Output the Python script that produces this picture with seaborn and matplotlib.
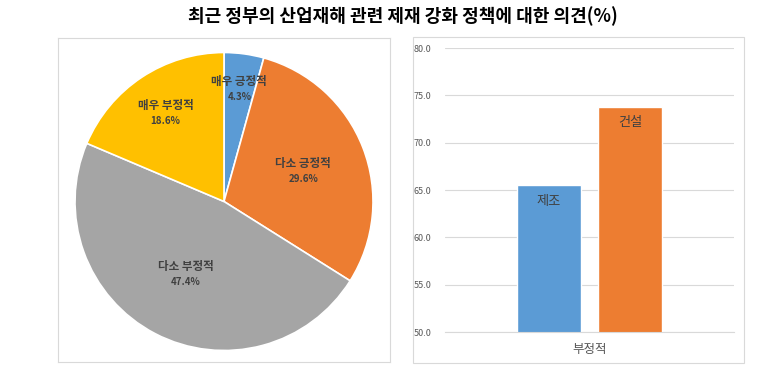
import numpy as np
import pandas as pd
import seaborn as sns
import matplotlib.pyplot as plt
from matplotlib.patches import Rectangle

sns.set_style('white')
plt.rcParams['font.family'] = ['Noto Sans CJK KR', 'DejaVu Sans']

title = '최근 정부의 산업재해 관련 제재 강화 정책에 대한 의견(%)'

# pie data
pie_labels = ['매우 긍정적', '다소 긍정적', '다소 부정적', '매우 부정적']
pie_values = [4.3, 29.6, 47.4, 18.6]
pie_colors = ['#5B9BD5', '#ED7D31', '#A5A5A5', '#FFC000']

# bar data
bar_category = ['부정적', '부정적']
bar_groups = ['제조', '건설']
bar_values = [65.5, 73.8]
bar_colors = ['#5B9BD5', '#ED7D31']
y_ticks = [50, 55, 60, 65, 70, 75, 80]

W, H = 776, 384
fig = plt.figure(figsize=(W / 100, H / 100), dpi=100)
fig.patch.set_facecolor('white')


def box(x0, y0, x1, y1):
    return [x0 / W, 1 - y1 / H, (x1 - x0) / W, (y1 - y0) / H]


fig.text(403 / W, 1 - 16 / H, title, ha='center', va='center',
         fontsize=13, fontweight='bold', color='black')

# pie panel
ax1 = fig.add_axes(box(58, 38, 390, 362))
r_px = 149
ax1.set_xlim(-166 / r_px, 166 / r_px)
ax1.set_ylim(-(362 - 201.5) / r_px, (201.5 - 38) / r_px)
wedges, _ = ax1.pie(pie_values, colors=pie_colors, startangle=90, counterclock=False,
                    radius=1, center=(0, 0), frame=True,
                    wedgeprops=dict(edgecolor='white', linewidth=1.2))
ax1.set_aspect('auto')
ax1.set_xticks([])
ax1.set_yticks([])
for s in ax1.spines.values():
    s.set_color('#D9D9D9')
    s.set_linewidth(0.8)

label_r = [0.76, 0.57, 0.55, 0.71]
for w, lab, v, r in zip(wedges, pie_labels, pie_values, label_r):
    ang = np.deg2rad((w.theta1 + w.theta2) / 2)
    x, y = r * np.cos(ang), r * np.sin(ang)
    ax1.text(x, y + 0.05, lab, ha='center', va='center', fontsize=8.3,
             fontweight='bold', color='#404040')
    ax1.text(x, y - 0.055, f'{v:.1f}%', ha='center', va='center', fontsize=7,
             fontweight='bold', color='#404040')

# bar panel
fig.add_artist(Rectangle((413 / W, 1 - 363 / H), (744 - 413) / W, (363 - 37) / H,
                         transform=fig.transFigure, facecolor='none',
                         edgecolor='#D9D9D9', linewidth=0.8))
ax2 = fig.add_axes(box(445, 48, 734, 332))
df = pd.DataFrame({'cat': bar_category, 'group': bar_groups, 'value': bar_values})
sns.barplot(data=df, x='cat', y='value', hue='group', palette=bar_colors,
            saturation=1, width=0.56, gap=0.21, ax=ax2, legend=False)
ax2.set_ylim(50, 80)
ax2.set_yticks(y_ticks)
ax2.set_yticklabels([f'{t:.1f}' for t in y_ticks], fontsize=6.5, color='#595959')
ax2.tick_params(axis='y', length=0, pad=10)
ax2.tick_params(axis='x', length=0, pad=8, labelsize=9, labelcolor='#595959')
ax2.set_xlabel('')
ax2.set_ylabel('')
ax2.grid(axis='y', color='#D9D9D9', linewidth=0.8)
ax2.set_axisbelow(True)
for s in ['left', 'right', 'top']:
    ax2.spines[s].set_visible(False)
ax2.spines['bottom'].set_color('#D9D9D9')
ax2.spines['bottom'].set_linewidth(0.8)

for patch, name in zip(ax2.patches, bar_groups):
    ax2.annotate(name, (patch.get_x() + patch.get_width() / 2, patch.get_height()),
                 xytext=(0, -7), textcoords='offset points', ha='center', va='top',
                 fontsize=9.5, color='#404040')

fig.savefig('out.png', dpi=100)
